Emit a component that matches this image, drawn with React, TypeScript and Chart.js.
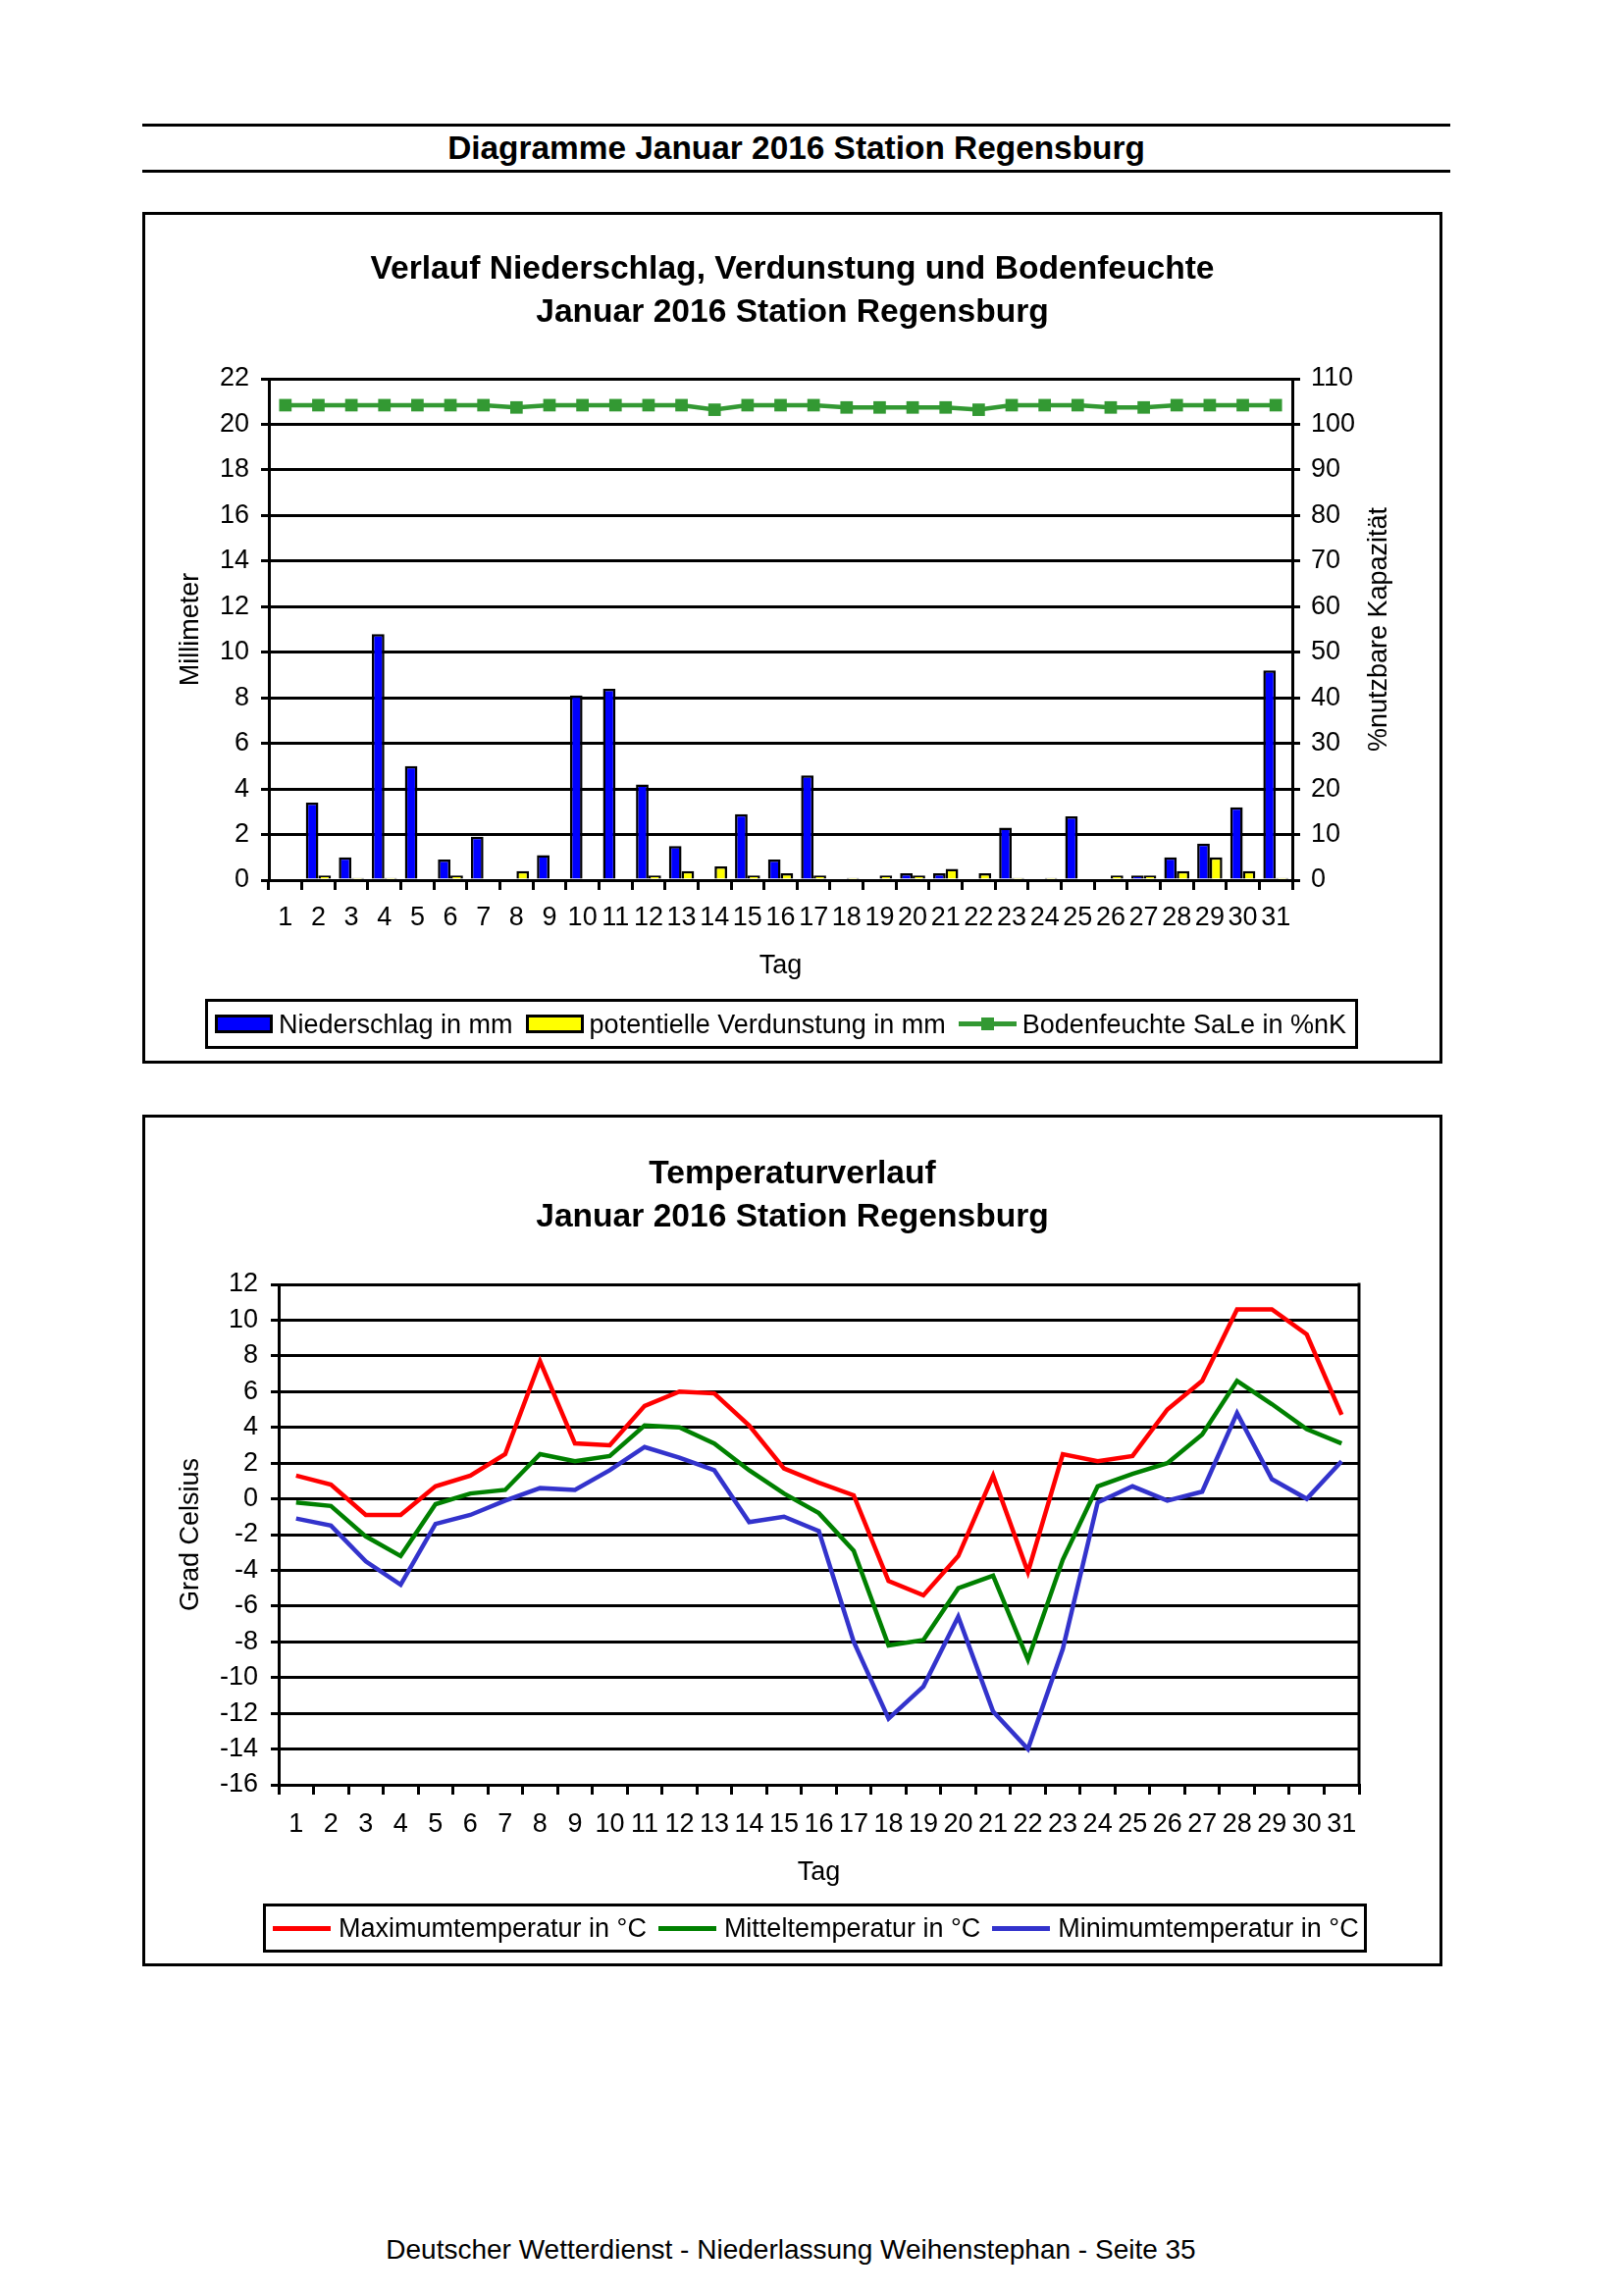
import React, { useEffect, useRef } from 'react';
import { Chart, registerables } from 'chart.js';

Chart.register(...registerables);

const FONT = '"Liberation Sans", Arial, Helvetica, sans-serif';

// ---------- data ----------
const days = ['1', '2', '3', '4', '5', '6', '7', '8', '9', '10', '11', '12', '13', '14', '15', '16',
  '17', '18', '19', '20', '21', '22', '23', '24', '25', '26', '27', '28', '29', '30', '31'];

const niederschlag = [0, 3.4, 1.0, 10.8, 5.0, 0.9, 1.9, 0, 1.1, 8.1, 8.4, 4.2, 1.5, 0, 2.9, 0.9,
  4.6, 0, 0, 0.3, 0.3, 0, 2.3, 0, 2.8, 0, 0.2, 1.0, 1.6, 3.2, 9.2];

const verdunstung = [0, 0.2, 0.1, 0.1, 0, 0.2, 0, 0.4, 0, 0, 0, 0.2, 0.4, 0.6, 0.2, 0.3,
  0.2, 0.1, 0.2, 0.2, 0.5, 0.3, 0.1, 0.1, 0, 0.2, 0.2, 0.4, 1.0, 0.4, 0.1];

const bodenfeuchte = [104.2, 104.2, 104.2, 104.2, 104.2, 104.2, 104.2, 103.7, 104.2, 104.2, 104.2,
  104.2, 104.2, 103.2, 104.2, 104.2, 104.2, 103.7, 103.7, 103.7, 103.7, 103.2, 104.2, 104.2, 104.2,
  103.7, 103.7, 104.2, 104.2, 104.2, 104.2];

const tmax = [1.3, 0.8, -0.9, -0.9, 0.7, 1.3, 2.5, 7.7, 3.1, 3.0, 5.2, 6.0, 5.9, 4.1, 1.7, 0.9,
  0.2, -4.6, -5.4, -3.2, 1.3, -4.1, 2.5, 2.1, 2.4, 5.0, 6.6, 10.6, 10.6, 9.2, 4.7];

const tmean = [-0.2, -0.4, -2.1, -3.2, -0.3, 0.3, 0.5, 2.5, 2.1, 2.4, 4.1, 4.0, 3.1, 1.6, 0.3, -0.8,
  -2.9, -8.2, -7.9, -5.0, -4.3, -9.0, -3.4, 0.7, 1.4, 2.0, 3.6, 6.6, 5.3, 3.9, 3.1];

const tmin = [-1.1, -1.5, -3.5, -4.8, -1.4, -0.9, -0.1, 0.6, 0.5, 1.6, 2.9, 2.3, 1.6, -1.3, -1.0, -1.8,
  -8.0, -12.3, -10.5, -6.6, -11.9, -14.0, -8.4, -0.2, 0.7, -0.1, 0.4, 4.8, 1.1, 0.0, 2.1];

const pageTitle = 'Diagramme Januar 2016 Station Regensburg';
const chart1Title = ['Verlauf Niederschlag, Verdunstung und Bodenfeuchte', 'Januar 2016 Station Regensburg'];
const chart2Title = ['Temperaturverlauf', 'Januar 2016 Station Regensburg'];
const footerText = 'Deutscher Wetterdienst - Niederlassung Weihenstephan - Seite 35';
const xTitle = 'Tag';
const y1Title = 'Millimeter';
const y1RightTitle = '%nutzbare Kapazität';
const y2Title = 'Grad Celsius';

const labelsPrecip = ['Niederschlag in mm', 'potentielle Verdunstung in mm', 'Bodenfeuchte SaLe in %nK'];
const labelsTemp = ['Maximumtemperatur in °C', 'Mitteltemperatur in °C', 'Minimumtemperatur in °C'];

const C_BLUE = '#0000FF';
const C_YELLOW = '#FFFF00';
const C_SOIL = '#339933';
const C_RED = '#FF0000';
const C_GREEN = '#008000';
const C_MINBLUE = '#3333CC';

// ---------- plugins ----------
const rightTitlePlugin = {
  id: 'rightTitle',
  afterDraw(chart: any) {
    const s = chart.scales.y1;
    if (!s) return;
    const ctx = chart.ctx;
    ctx.save();
    ctx.translate(s.right - 20, (chart.chartArea.top + chart.chartArea.bottom) / 2);
    ctx.rotate(-Math.PI / 2);
    ctx.font = `27px ${FONT}`;
    ctx.fillStyle = '#000';
    ctx.textAlign = 'center';
    ctx.textBaseline = 'middle';
    ctx.fillText(y1RightTitle, 0, 0);
    ctx.restore();
  },
};

const frameRightPlugin = {
  id: 'frameRight',
  beforeDatasetsDraw(chart: any) {
    const { ctx, chartArea } = chart;
    ctx.save();
    ctx.strokeStyle = '#000';
    ctx.lineWidth = 3;
    ctx.beginPath();
    ctx.moveTo(chartArea.right, chartArea.top - 1.5);
    ctx.lineTo(chartArea.right, chartArea.bottom + 1.5);
    ctx.stroke();
    ctx.restore();
  },
};

const tickFont = { family: FONT, size: 27 };

function PrecipChart() {
  const ref = useRef<HTMLCanvasElement>(null);
  useEffect(() => {
    if (!ref.current) return;
    const chart = new Chart(ref.current, {
      type: 'bar',
      data: {
        labels: days,
        datasets: [
          {
            type: 'line',
            label: labelsPrecip[2],
            data: bodenfeuchte,
            yAxisID: 'y1',
            borderColor: C_SOIL,
            backgroundColor: C_SOIL,
            borderWidth: 4.5,
            pointStyle: 'rect',
            pointRadius: 9,
            pointBorderWidth: 0,
            tension: 0,
            order: 0,
          } as any,
          {
            type: 'bar',
            label: labelsPrecip[0],
            data: niederschlag,
            yAxisID: 'y',
            backgroundColor: C_BLUE,
            borderColor: '#000',
            borderWidth: 2.5,
            barPercentage: 1,
            categoryPercentage: 0.76,
            order: 1,
          },
          {
            type: 'bar',
            label: labelsPrecip[1],
            data: verdunstung,
            yAxisID: 'y',
            backgroundColor: C_YELLOW,
            borderColor: '#000',
            borderWidth: 2.5,
            barPercentage: 1,
            categoryPercentage: 0.76,
            order: 1,
          },
        ],
      },
      options: {
        animation: false,
        responsive: false,
        maintainAspectRatio: false,
        devicePixelRatio: 1,
        layout: { padding: { left: 26, right: 41, top: 167, bottom: 80 } },
        plugins: {
          legend: { display: false },
          title: { display: false },
          tooltip: { enabled: false },
        },
        scales: {
          x: {
            offset: true,
            grid: { offset: true, drawOnChartArea: false, drawTicks: true, tickLength: 10, color: '#000', lineWidth: 3 },
            border: { display: true, color: '#000', width: 3 },
            ticks: { font: tickFont, color: '#000', padding: 12, maxRotation: 0, minRotation: 0, autoSkip: false },
            title: { display: true, text: xTitle, font: tickFont, color: '#000', padding: 0 },
            afterFit: (s: any) => { s.height = 104; },
          },
          y: {
            position: 'left',
            min: 0,
            max: 22,
            ticks: { stepSize: 2, font: tickFont, color: '#000', padding: 12 },
            grid: { color: '#000', lineWidth: 3, tickLength: 8 },
            border: { display: true, color: '#000', width: 3 },
            title: { display: true, text: y1Title, font: tickFont, color: '#000', padding: { top: 4, bottom: 0 } },
            afterFit: (s: any) => { s.width = 100; },
          },
          y1: {
            position: 'right',
            min: 0,
            max: 110,
            ticks: { stepSize: 10, font: tickFont, color: '#000', padding: 11 },
            grid: { drawOnChartArea: false, color: '#000', lineWidth: 3, tickLength: 8 },
            border: { display: true, color: '#000', width: 3 },
            afterFit: (s: any) => { s.width = 109; },
          },
        },
      } as any,
      plugins: [rightTitlePlugin],
    });
    return () => chart.destroy();
  }, []);
  return <canvas ref={ref} width={1319} height={862} style={{ display: 'block', position: 'absolute', left: 0, top: 0 }} />;
}

function TempChart() {
  const ref = useRef<HTMLCanvasElement>(null);
  useEffect(() => {
    if (!ref.current) return;
    const mk = (label: string, data: number[], color: string) => ({
      label,
      data,
      borderColor: color,
      backgroundColor: color,
      borderWidth: 4.5,
      pointRadius: 0,
      tension: 0,
      fill: false,
    });
    const chart = new Chart(ref.current, {
      type: 'line',
      data: {
        labels: days,
        datasets: [
          mk(labelsTemp[0], tmax, C_RED),
          mk(labelsTemp[1], tmean, C_GREEN),
          mk(labelsTemp[2], tmin, C_MINBLUE),
        ],
      },
      options: {
        animation: false,
        responsive: false,
        maintainAspectRatio: false,
        devicePixelRatio: 1,
        layout: { padding: { left: 26, right: 82, top: 170, bottom: 76 } },
        plugins: {
          legend: { display: false },
          title: { display: false },
          tooltip: { enabled: false },
        },
        scales: {
          x: {
            offset: true,
            grid: { offset: true, drawOnChartArea: false, drawTicks: true, tickLength: 10, color: '#000', lineWidth: 3 },
            border: { display: true, color: '#000', width: 3 },
            ticks: { font: tickFont, color: '#000', padding: 14, maxRotation: 0, minRotation: 0, autoSkip: false },
            title: { display: true, text: xTitle, font: tickFont, color: '#000', padding: 0 },
            afterFit: (s: any) => { s.height = 106; },
          },
          y: {
            min: -16,
            max: 12,
            ticks: { stepSize: 2, font: tickFont, color: '#000', padding: 13 },
            grid: { color: '#000', lineWidth: 3, tickLength: 8 },
            border: { display: true, color: '#000', width: 3 },
            title: { display: true, text: y2Title, font: tickFont, color: '#000', padding: { top: 4, bottom: 0 } },
            afterFit: (s: any) => { s.width = 110; },
          },
        },
      } as any,
      plugins: [frameRightPlugin],
    });
    return () => chart.destroy();
  }, []);
  return <canvas ref={ref} width={1319} height={862} style={{ display: 'block', position: 'absolute', left: 0, top: 0 }} />;
}

type LegendItem = { label: string; kind: 'bar' | 'line' | 'marker'; color: string };

function Swatch({ item }: { item: LegendItem }) {
  if (item.kind === 'bar') {
    return <div style={{ width: 59, height: 19, background: item.color, border: '3px solid #000', boxSizing: 'border-box', flex: 'none' }} />;
  }
  return (
    <div style={{ position: 'relative', width: 59, height: 19, flex: 'none' }}>
      <div style={{ position: 'absolute', left: 0, right: 0, top: 7, height: 5, background: item.color }} />
      {item.kind === 'marker' && (
        <div style={{ position: 'absolute', left: 23, top: 3, width: 13, height: 13, background: item.color }} />
      )}
    </div>
  );
}

function Legend({ items, style, gap, swGap }: { items: LegendItem[]; style: React.CSSProperties; gap: number; swGap: number }) {
  return (
    <div style={{
      position: 'absolute', boxSizing: 'border-box', border: '3px solid #000', display: 'flex',
      alignItems: 'center', fontFamily: FONT, fontSize: 27, color: '#000', whiteSpace: 'nowrap', ...style,
    }}>
      {items.map((it, i) => (
        <div key={i} style={{ display: 'flex', alignItems: 'center', marginLeft: i === 0 ? 0 : gap }}>
          <Swatch item={it} />
          <span style={{ marginLeft: swGap, lineHeight: '30px' }}>{it.label}</span>
        </div>
      ))}
    </div>
  );
}

function BoxTitle({ lines, top, lh }: { lines: string[]; top: number; lh: number }) {
  return (
    <div style={{
      position: 'absolute', left: 0, top, width: '100%', textAlign: 'center', fontFamily: FONT,
      fontWeight: 'bold', fontSize: 33.6, lineHeight: `${lh}px`, color: '#000', zIndex: 2,
    }}>
      {lines.map((l, i) => <div key={i}>{l}</div>)}
    </div>
  );
}

export default function App() {
  return (
    <div style={{ position: 'absolute', left: 0, top: 0, width: 1653, height: 2340, background: '#fff', fontFamily: FONT, overflow: 'hidden' }}>
      {/* page header */}
      <div style={{
        position: 'absolute', left: 145, top: 126, width: 1333, height: 50, boxSizing: 'border-box',
        borderTop: '3px solid #000', borderBottom: '3px solid #000', display: 'flex', alignItems: 'center',
        justifyContent: 'center', fontWeight: 'bold', fontSize: 33.4, color: '#000',
      }}>
        {pageTitle}
      </div>

      {/* chart 1 box */}
      <div style={{ position: 'absolute', left: 145, top: 216, width: 1325, height: 868, boxSizing: 'border-box', border: '3px solid #000' }}>
        <div style={{ position: 'relative', width: 1319, height: 862 }}>
          <PrecipChart />
          <BoxTitle lines={chart1Title} top={32} lh={44} />
          <Legend
            style={{ left: 61, top: 799, width: 1175, height: 51, paddingLeft: 7 }}
            gap={13}
            swGap={6}
            items={[
              { label: labelsPrecip[0], kind: 'bar', color: C_BLUE },
              { label: labelsPrecip[1], kind: 'bar', color: C_YELLOW },
              { label: labelsPrecip[2], kind: 'marker', color: C_SOIL },
            ]}
          />
        </div>
      </div>

      {/* chart 2 box */}
      <div style={{ position: 'absolute', left: 145, top: 1136, width: 1325, height: 868, boxSizing: 'border-box', border: '3px solid #000' }}>
        <div style={{ position: 'relative', width: 1319, height: 862 }}>
          <TempChart />
          <BoxTitle lines={chart2Title} top={34} lh={44} />
          <Legend
            style={{ left: 120, top: 801, width: 1125, height: 50, paddingLeft: 7 }}
            gap={12}
            swGap={8}
            items={[
              { label: labelsTemp[0], kind: 'line', color: C_RED },
              { label: labelsTemp[1], kind: 'line', color: C_GREEN },
              { label: labelsTemp[2], kind: 'line', color: C_MINBLUE },
            ]}
          />
        </div>
      </div>

      {/* footer */}
      <div style={{
        position: 'absolute', left: 145, top: 2277, width: 1322, textAlign: 'center', fontSize: 28,
        lineHeight: '32px', color: '#000',
      }}>
        {footerText}
      </div>
    </div>
  );
}
